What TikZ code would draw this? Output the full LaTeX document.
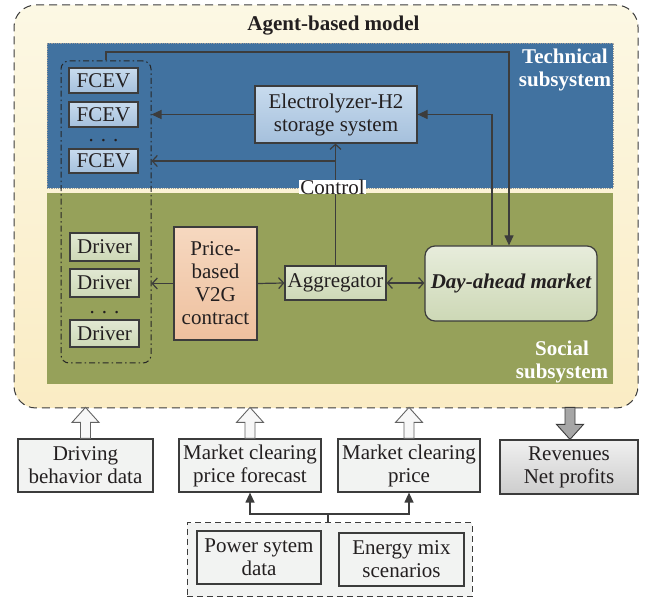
\documentclass[tikz,border=0pt]{standalone}
\usepackage{fontspec}
\setmainfont{Liberation Serif}
\usetikzlibrary{arrows.meta,calc}
\definecolor{techblue}{RGB}{65,114,160}
\definecolor{socgreen}{RGB}{150,161,90}
\definecolor{outtop}{RGB}{252,248,228}
\definecolor{outbot}{RGB}{250,236,196}
\definecolor{fcevtop}{RGB}{200,219,238}
\definecolor{fcevbot}{RGB}{165,192,220}
\definecolor{drvtop}{RGB}{225,232,210}
\definecolor{drvbot}{RGB}{205,216,182}
\definecolor{contop}{RGB}{246,216,192}
\definecolor{conbot}{RGB}{238,192,158}
\definecolor{datafill}{RGB}{242,243,242}
\definecolor{revtop}{RGB}{240,240,240}
\definecolor{revbot}{RGB}{205,205,205}
\definecolor{lncol}{RGB}{60,60,60}
\definecolor{txtcol}{RGB}{35,31,32}
\newcommand\myfs{\fontsize{21}{23}\selectfont}
\begin{document}
\begin{tikzpicture}[x=1pt,y=-1pt,
  box/.style={draw=lncol, line width=1.2pt, inner sep=0pt, align=center, font=\myfs, text=txtcol},
  fcevbox/.style={box, top color=fcevtop, bottom color=fcevbot, minimum width=69pt},
  drvbox/.style={box, top color=drvtop, bottom color=drvbot, minimum width=69pt},
  databox/.style={box, fill=datafill, minimum height=53pt},
  fa/.style={draw=lncol, line width=1.2pt, -{Triangle[length=10pt,width=9pt]}},
  oa/.style={draw=lncol, line width=1.2pt, -{Straight Barb[length=5pt,width=11pt]}},
  oa2/.style={draw=lncol, line width=1.2pt, {Straight Barb[length=5pt,width=11pt]}-{Straight Barb[length=5pt,width=11pt]}},
  blk/.style={draw=lncol!80, line width=0.9pt, fill=white!97!black},
  blkd/.style={draw=lncol, line width=0.9pt, fill=black!35},
]
\useasboundingbox (0,0) rectangle (646,601);

% outer agent-based model
\node[draw=lncol, line width=1pt, dash pattern=on 8pt off 5pt, rounded corners=22pt,
      top color=outtop, bottom color=outbot, minimum width=624pt, minimum height=403pt, inner sep=0pt]
      (outer) at (326,206.5) {};
\node[font=\myfs\bfseries, text=txtcol] (title) at (333.5,26) {Agent-based model};

% subsystems
\node[fill=techblue, draw=black!40, densely dotted, line width=0.8pt, minimum width=566pt, minimum height=145pt, inner sep=0pt]
      (tech) at (330,115.5) {};
\node[fill=socgreen, minimum width=566pt, minimum height=191pt, inner sep=0pt]
      (soc) at (330,288.5) {};
\node[font=\myfs\bfseries, text=white, align=center] (techlbl) at (565,70) {Technical\\subsystem};
\node[font=\myfs\bfseries, text=white, align=center] (soclbl) at (562,362) {Social\\subsystem};

% group of FCEVs / drivers
\node[draw=black!85, line width=1pt, dash pattern=on 6pt off 3pt on 1.5pt off 3pt, rounded corners=8pt,
      minimum width=90pt, minimum height=302pt, inner sep=0pt] (grp) at (106,212) {};

\node[fcevbox, minimum height=25pt] (f1) at (103.5,80.5) {FCEV};
\node[fcevbox, minimum height=25pt] (f2) at (103.5,114.5) {FCEV};
\node[font=\myfs, text=txtcol, anchor=base, inner sep=0pt] (fdots) at (103.5,142) {. . .};
\node[fcevbox, minimum height=24pt] (f3) at (103.5,161) {FCEV};

\node[drvbox, minimum height=28pt] (d1) at (104.5,247) {Driver};
\node[drvbox, minimum height=28pt] (d2) at (104.5,283) {Driver};
\node[font=\myfs, text=txtcol, anchor=base, inner sep=0pt] (ddots) at (104.5,314) {. . .};
\node[drvbox, minimum height=27pt] (d3) at (104.5,333.5) {Driver};

% main boxes
\node[box, top color=contop, bottom color=conbot, minimum width=83pt, minimum height=113pt]
      (con) at (215.5,283.5) {Price-\\based\\V2G\\contract};
\node[box, top color=drvtop, bottom color=drvbot, minimum width=101pt, minimum height=34pt]
      (agg) at (335.5,283) {Aggregator};
\node[box, rounded corners=10pt, top color=drvtop!80!white, bottom color=drvbot, minimum width=172pt, minimum height=75pt]
      (dam) at (511,283.5) {\bfseries\itshape Day-ahead market};
\node[box, top color=fcevtop, bottom color=fcevbot, minimum width=162pt, minimum height=57pt]
      (elec) at (336,114.5) {Electrolyzer-H2\\storage system};

% connectors in model
\draw[fa] (grp.north) -- (grp.north |- 0,52) -| ($(dam.north)+(-2,0)$);
\draw[fa] ($(dam.north)+(-19,0)$) |- (elec.east);
\draw[fa] (elec.west) -- (elec.west -| grp.east);
\draw[oa] (agg.north) -- (agg.north |- elec.south);
\draw[oa] (agg.north |- 0,161) -- (grp.east |- 0,161);
\draw[oa] (con.west) -- (con.west -| grp.east);
\draw[oa] (con.east) -- (agg.west);
\draw[oa2] (agg.east) -- (dam.west |- agg.east);
\node[fill=white, inner xsep=1pt, inner ysep=0pt, font=\myfs, text=txtcol] (ctl) at ($(agg.north |- 0,187)+(-3,0)$) {Control};

% bottom data boxes
\node[databox, minimum width=135pt] (drv) at (85.5,465.5) {Driving\\behavior data};
\node[databox, minimum width=142pt] (fc) at (250,465.5) {Market clearing\\price forecast};
\node[databox, minimum width=142pt] (mcp) at (409,465.5) {Market clearing\\price};
\node[box, top color=revtop, bottom color=revbot, minimum width=138pt, minimum height=54pt] (rev) at (569,467) {Revenues\\Net profits};

\node[draw=lncol, line width=1pt, dash pattern=on 6pt off 4pt, fill=datafill, minimum width=285pt, minimum height=74pt, inner sep=0pt]
      (bgrp) at (329.5,560) {};
\node[databox, minimum width=124pt] (psd) at (259,557.5) {Power sytem\\data};
\node[databox, minimum width=125pt] (ems) at (401.5,559.5) {Energy mix\\scenarios};

\coordinate (j) at ($(bgrp.north |- 0,514)+(-1.5,0)$);
\draw[fa] ($(bgrp.north)+(-1.5,0)$) -- (j) -| (fc.south);
\draw[fa] (j) -| (mcp.south);

% block arrows
\foreach \n in {drv,fc,mcp}{
  \draw[blk] ($(\n.north)+(-5,0)$) -- ++(0,-16) -- ++(-8.5,0) -- ($(\n.north)+(0,-31)$)
     -- ($(\n.north)+(13.5,-16)$) -- ++(-8.5,0) -- ($(\n.north)+(5,0)$) -- cycle;
}
\draw[blkd] ($(rev.north)+(-4,-32)$) -- ++(0,17) -- ++(-8.5,0) -- ($(rev.north)+(1,0)$)
     -- ($(rev.north)+(14.5,-15)$) -- ++(-8.5,0) -- ($(rev.north)+(6,-32)$) -- cycle;
\end{tikzpicture}
\end{document}
